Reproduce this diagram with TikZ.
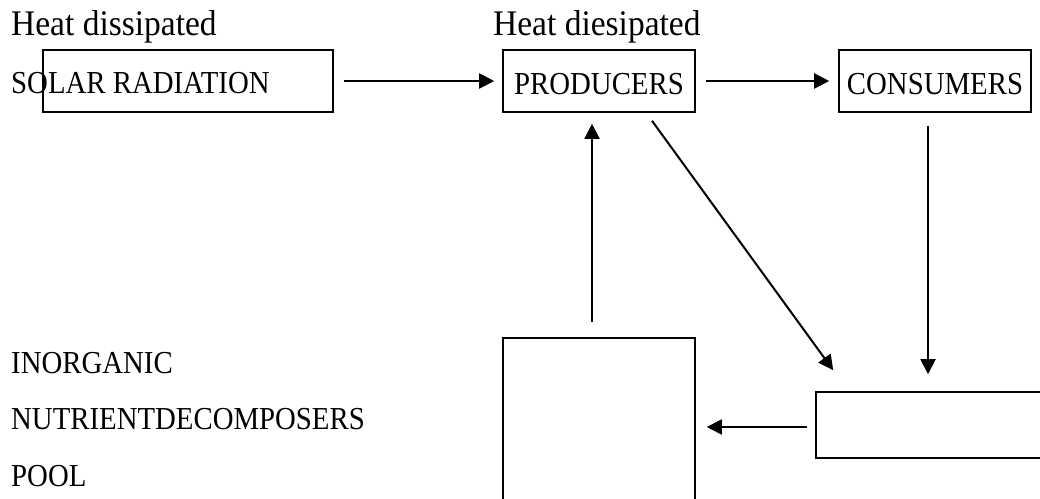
\documentclass[tikz,border=0pt]{standalone}
\usepackage{fontspec}
\setmainfont{Liberation Serif}
\newfontfamily\capsfont[FakeStretch=0.9]{Liberation Serif}
\newfontfamily\heatfont[FakeStretch=0.93]{Liberation Serif}
\usetikzlibrary{arrows.meta}
\begin{document}
\begin{tikzpicture}[x=1pt,y=-1pt,
  box/.style={draw, line width=1.6pt, rectangle, inner sep=0pt, text height=26pt, text depth=0pt, font=\capsfont\fontsize{32}{38}\selectfont},
  lbl/.style={inner sep=0pt, anchor=base west},
  heat/.style={lbl, font=\heatfont\fontsize{36}{42}\selectfont},
  caps/.style={lbl, font=\capsfont\fontsize{32}{38}\selectfont},
  flow/.style={line width=2pt, -{Triangle[length=15pt,width=15pt]}}]
\useasboundingbox (0,0) rectangle (1040,498);
\clip (0,0) rectangle (1040,498);
% boxes
\node[box, minimum width=290pt, minimum height=62pt] (solar) at (188,81) {};
\node[box, minimum width=192pt, minimum height=62pt] (prod) at (599,81) {PRODUCERS};
\node[box, minimum width=192pt, minimum height=62pt] (cons) at (935,81) {CONSUMERS};
\node[box, minimum width=234pt, minimum height=66pt] (decomp) at (933,425) {};
\node[box, minimum width=192pt, minimum height=182pt] (pool) at (599,429) {};
% labels
\node[heat] (heat1) at (11,35) {Heat dissipated};
\node[heat] (heat2) at (493,35) {Heat diesipated};
\node[caps] (solartxt) at (11,93) {SOLAR RADIATION};
\node[caps] (inorg) at (11,373) {INORGANIC};
\node[caps] (nutr) at (11,429) {NUTRIENTDECOMPOSERS};
\node[caps] (pooltxt) at (11,486) {POOL};
% connectors
\draw[flow] ([xshift=10pt]solar.east) -- ([xshift=-8pt]prod.west);
\draw[flow] ([xshift=10pt]prod.east) -- ([xshift=-9pt]cons.west);
\draw[flow] ([xshift=-7pt,yshift=15pt]pool.north) -- ([xshift=-7pt,yshift=-11pt]prod.south);
\draw[flow] ([xshift=53pt,yshift=-8pt]prod.south) -- ([xshift=18pt,yshift=21pt]decomp.north west);
\draw[flow] ([xshift=-7pt,yshift=-13pt]cons.south) -- ([xshift=-5pt,yshift=17pt]decomp.north);
\draw[flow] ([xshift=-8pt,yshift=-2pt]decomp.west) -- ([xshift=11pt,yshift=-2pt]pool.east |- decomp.west);
\end{tikzpicture}
\end{document}
